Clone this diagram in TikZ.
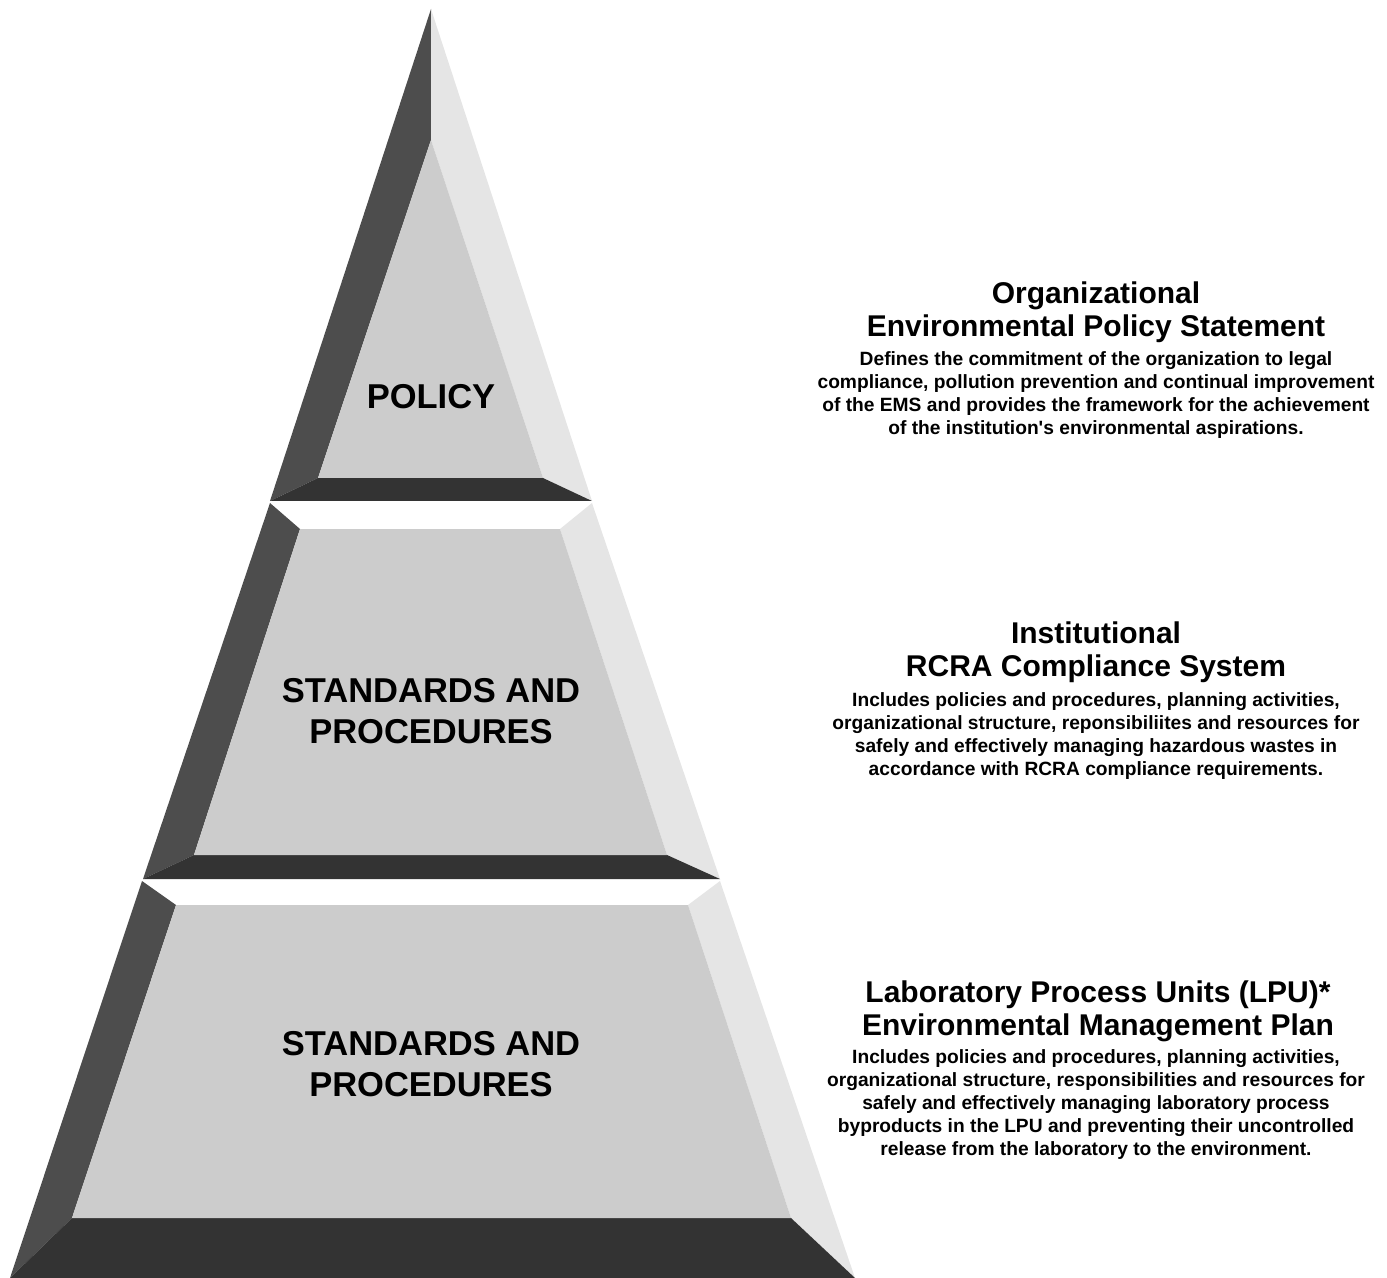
\documentclass[tikz,border=0pt]{standalone}
\usepackage{fontspec}
\setmainfont{Liberation Sans}[Ligatures=TeXOff]
\definecolor{pyrface}{HTML}{CCCCCC}
\definecolor{pyrdark}{HTML}{4D4D4D}
\definecolor{pyrlight}{HTML}{E5E5E5}
\definecolor{pyrbase}{HTML}{333333}
\begin{document}
\begin{tikzpicture}[x=0.5pt,y=-0.5pt,
        face/.style={fill=pyrface},
        leftside/.style={fill=pyrdark},
        rightside/.style={fill=pyrlight},
        baseside/.style={fill=pyrbase},
        topside/.style={fill=white},
        tiertext/.style={inner sep=0,align=center,font=\fontsize{17.25}{20.5}\selectfont\bfseries},
        headtext/.style={inner sep=0,align=center,font=\fontsize{15}{16.5}\selectfont\bfseries},
        desctext/.style={inner sep=0,align=center,font=\fontsize{9.6}{11.5}\selectfont\bfseries}]
        \useasboundingbox (0,0) rectangle (1387,1278);
        % top tier
        \fill[leftside](431,9)--(431,140)--(318,478)--(270,501)--cycle;
        \fill[rightside](431,9)--(431,140)--(543,478)--(592,501)--cycle;
        \fill[baseside](270,501)--(318,478)--(543,478)--(592,501)--cycle;
        \fill[face](431,140)--(318,478)--(543,478)--cycle;
        % middle tier
        \fill[topside](270,503)--(300,529)--(560,529)--(592,503)--cycle;
        \fill[leftside](270,503)--(300,529)--(194,855)--(143,879)--cycle;
        \fill[rightside](592,503)--(560,529)--(667,855)--(720,879)--cycle;
        \fill[baseside](143,879)--(194,855)--(667,855)--(720,879)--cycle;
        \fill[face](300,529)--(560,529)--(667,855)--(194,855)--cycle;
        % bottom tier
        \fill[topside](142,881)--(176,905)--(688,905)--(720,881)--cycle;
        \fill[leftside](142,881)--(176,905)--(72,1218)--(10,1278)--cycle;
        \fill[rightside](720,881)--(688,905)--(791,1218)--(855,1278)--cycle;
        \fill[baseside](10,1278)--(72,1218)--(791,1218)--(855,1278)--cycle;
        \fill[face](176,905)--(688,905)--(791,1218)--(72,1218)--cycle;
        % tier labels
        \node[tiertext] (policy) at (431,397) {POLICY};
        \node[tiertext] (standards) at (431,711) {STANDARDS AND\\PROCEDURES};
        \node[tiertext] (procedures) at (431,1064) {STANDARDS AND\\PROCEDURES};
        % descriptions
        \node[headtext] (head1) at (1096,312) {Organizational\\Environmental Policy Statement};
        \node[desctext] (desc1) at (1096,395) {Defines the commitment of the organization to legal\\
            compliance, pollution prevention and continual improvement\\
            of the EMS and provides the framework for the achievement\\
            of the institution's environmental aspirations.};
        \node[headtext] (head2) at (1096,652) {Institutional\\RCRA Compliance System};
        \node[desctext] (desc2) at (1096,736) {Includes policies and procedures, planning activities,\\
            organizational structure, reponsibiliites and resources for\\
            safely and effectively managing hazardous wastes in\\
            accordance with RCRA compliance requirements.};
        \node[headtext] (head3) at (1098,1011) {Laboratory Process Units (LPU)*\\Environmental Management Plan};
        \node[desctext] (desc3) at (1096,1105) {Includes policies and procedures, planning activities,\\
            organizational structure, responsibilities and resources for\\
            safely and effectively managing laboratory process\\
            byproducts in the LPU and preventing their uncontrolled\\
            release from the laboratory to the environment.};
\end{tikzpicture}
\end{document}
